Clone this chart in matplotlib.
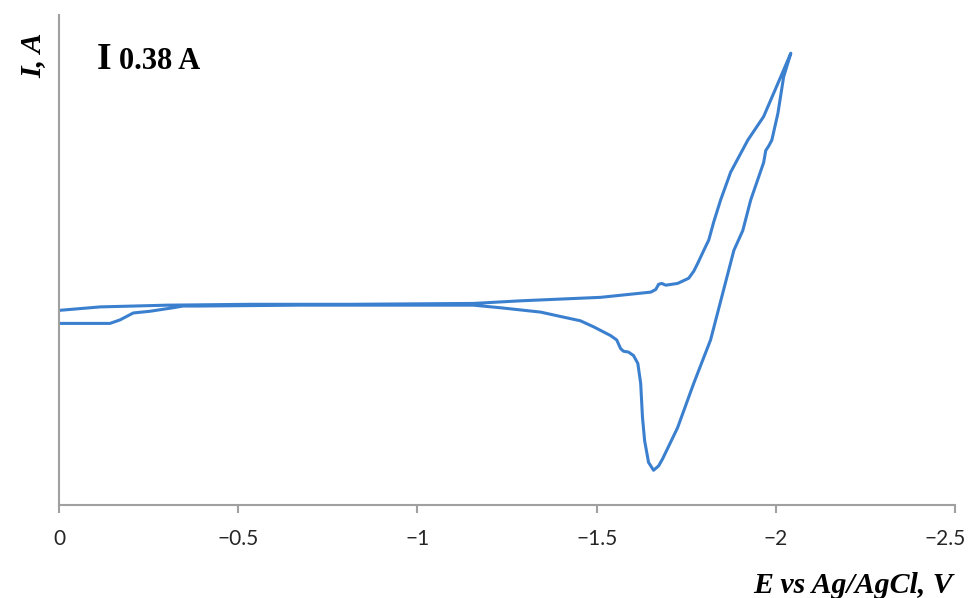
import matplotlib.pyplot as plt
from matplotlib.transforms import ScaledTranslation

# cyclic voltammogram, potential in V vs Ag/AgCl, current in A
# cathodic sweep 0 -> -2.04 V
e_fwd = [0, -0.115, -0.302, -0.534, -0.813, -1.156, -1.288, -1.399, -1.511,
         -1.651, -1.665, -1.673, -1.682, -1.693, -1.726, -1.757, -1.771,
         -1.782, -1.799, -1.813, -1.827, -1.846, -1.874, -1.922, -1.966,
         -2.014, -2.042]
i_fwd = [-0.06, -0.02, 0.00, 0.01, 0.01, 0.02, 0.05, 0.07, 0.09,
         0.15, 0.18, 0.24, 0.25, 0.23, 0.25, 0.31, 0.39,
         0.48, 0.63, 0.75, 0.96, 1.21, 1.53, 1.90, 2.17,
         2.63, 2.90]

# anodic sweep back to 0 V
e_rev = [-2.042, -2.022, -2.006, -1.989, -1.980, -1.972, -1.966, -1.930,
         -1.908, -1.883, -1.818, -1.771, -1.726, -1.684, -1.673, -1.659,
         -1.645, -1.634, -1.628, -1.623, -1.615, -1.603, -1.589, -1.575,
         -1.567, -1.556, -1.539, -1.492, -1.455, -1.399, -1.344, -1.232,
         -1.156, -0.953, -0.673, -0.394, -0.346, -0.318, -0.254, -0.207,
         -0.170, -0.142, -0.073, 0]
i_rev = [2.90, 2.63, 2.21, 1.90, 1.83, 1.78, 1.64, 1.21,
         0.86, 0.63, -0.40, -0.90, -1.41, -1.77, -1.85, -1.90,
         -1.81, -1.56, -1.29, -0.90, -0.67, -0.58, -0.54, -0.53,
         -0.50, -0.40, -0.35, -0.25, -0.18, -0.13, -0.08, -0.03,
         0.00, 0.00, 0.00, -0.01, -0.01, -0.03, -0.07, -0.09,
         -0.17, -0.21, -0.21, -0.21]

x_ticks = [0, -0.5, -1, -1.5, -2, -2.5]

fig = plt.figure(figsize=(9.71, 5.98), dpi=100)
ax = fig.add_axes([0.0608, 0.1555, 0.9227, 0.8195])

blue = '#3b80cf'
ax.plot(e_fwd + e_rev, i_fwd + i_rev, color=blue, lw=2.2,
        solid_joinstyle='round', solid_capstyle='round')

ax.set_xlim(0, -2.5)
ax.set_ylim(-2.30, 3.34)
ax.set_xticks(x_ticks)
ax.set_xticklabels(['0' if t == 0 else '\u2212' + f'{-t:g}' for t in x_ticks],
                   fontfamily='Lato', fontsize=15, color='#262626')
ax.set_yticks([])

for side in ['top', 'right']:
    ax.spines[side].set_visible(False)
for side in ['left', 'bottom']:
    ax.spines[side].set_color('#a0a0a0')
    ax.spines[side].set_linewidth(1.5)
ax.tick_params(axis='x', direction='out', length=6, width=1.5, color='#a0a0a0', pad=11)

# keep the last label inside the canvas
last = ax.get_xticklabels()[-1]
last.set_transform(last.get_transform() + ScaledTranslation(-7 / 72, 0, fig.dpi_scale_trans))

serif = 'Liberation Serif'
fig.text(953 / 971, 1 - 593 / 598, 'E vs Ag/AgCl, V', ha='right', va='baseline',
         fontfamily=serif, fontweight='bold', fontstyle='italic', fontsize=21.5)
fig.text(33 / 971, 1 - 55 / 598, 'I, A', ha='center', va='center', rotation=90,
         fontfamily=serif, fontweight='bold', fontstyle='italic', fontsize=21.5)

# current scale bar
fig.text(97 / 971, 1 - 69 / 598, 'I', ha='left', va='baseline',
         fontfamily=serif, fontweight='bold', fontsize=27)
fig.text(119 / 971, 1 - 69 / 598, '0.38 A', ha='left', va='baseline',
         fontfamily=serif, fontweight='bold', fontsize=22)

fig.savefig('out.png', dpi=100)
